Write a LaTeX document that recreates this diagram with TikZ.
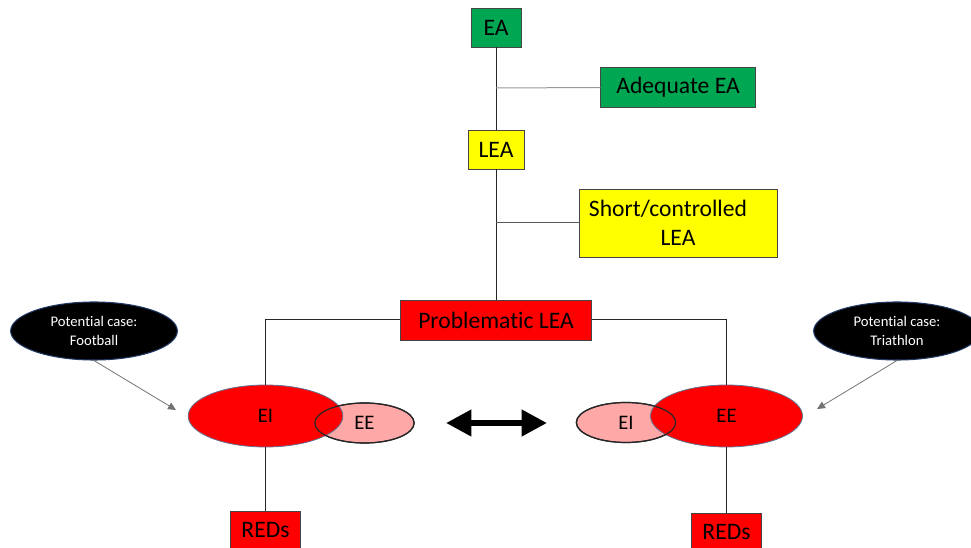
\documentclass[tikz,border=0pt]{standalone}
\usepackage{fontspec}
\setmainfont[Ligatures={NoCommon}]{Carlito}
\usepackage{xcolor}
\usepackage{tikz}
\usetikzlibrary{shapes.geometric,arrows.meta,positioning}

\definecolor{eagreen}{RGB}{0,166,81}
\definecolor{leayellow}{RGB}{255,255,0}
\definecolor{redsred}{RGB}{255,0,0}
\definecolor{softpink}{RGB}{255,168,168}
\definecolor{rimgray}{RGB}{70,70,70}
\definecolor{navyrim}{RGB}{31,56,100}

\tikzset{
  stagebox/.style={draw=rimgray, line width=0.6pt, inner sep=0pt, align=center,
    font=\fontsize{17.7}{22}\selectfont},
  bigoval/.style={ellipse, fill=redsred, draw=navyrim!70, line width=0.6pt, inner sep=0pt,
    minimum width=116pt, minimum height=46.5pt, font=\fontsize{15.5}{18}\selectfont},
  smalloval/.style={ellipse, fill=softpink, draw=black!85, line width=0.9pt, inner sep=0pt,
    minimum width=74.5pt, minimum height=30pt, font=\fontsize{15.5}{18}\selectfont},
  smallrim/.style={ellipse, draw=black!85, line width=0.9pt, inner sep=0pt,
    minimum width=74.5pt, minimum height=30pt},
  caseoval/.style={ellipse, fill=black, draw=navyrim, line width=0.8pt, text=white, inner sep=0pt,
    align=center, minimum width=125pt, minimum height=43.5pt, font=\fontsize{11}{13.7}\selectfont},
  link/.style={draw=black!85, line width=0.75pt},
}

\begin{document}
\begin{tikzpicture}[x=0.75pt,y=0.75pt,yscale=-1,xscale=1]
\useasboundingbox (0,0) rectangle (971,548);

% Stage boxes
\node [stagebox, fill=eagreen, minimum width=37.5pt, minimum height=29.3pt] (ea) at (496,27.5) {EA};
\node [stagebox, fill=eagreen, minimum width=116pt, minimum height=29.7pt] (adeq) at (678,87.5) {Adequate EA};
\node [stagebox, fill=leayellow, minimum width=42pt, minimum height=29.3pt] (lea) at (496,149.5) {LEA};
\node [stagebox, fill=leayellow, minimum width=148.5pt, minimum height=51pt] (short) at (678,223) {Short/controlled\hspace*{15pt}\\LEA};
\node [stagebox, fill=redsred, minimum width=143pt, minimum height=30pt] (prob) at (496,320) {Problematic LEA};

% Left pair: EI dominant
\node [smalloval] (eeL) at (364.5,423) {EE};
\node [bigoval] (eiL) at (265.5,416) {EI};
\node [smallrim] (eeLrim) at (364.5,423) {};
% Right pair: EE dominant
\node [smalloval] (eiR) at (626,422.5) {EI};
\node [bigoval, minimum width=114pt] (eeR) at (726.5,416) {EE};
\node [smallrim] (eiRrim) at (626,422.5) {};

% Outcome boxes
\node [stagebox, fill=redsred, minimum width=53pt, minimum height=29.3pt] (redsL) at (265.5,530.5) {REDs};
\node [stagebox, fill=redsred, minimum width=53pt, minimum height=29.3pt] (redsR) at (726.5,532.5) {REDs};

% Example cases
\node [caseoval] (football) at (94,331) {Potential case:\\Football};
\node [caseoval] (triathlon) at (897,331) {Potential case:\\Triathlon};

% Branch points and arrow ends
\coordinate (jAdeq) at (496,88);
\coordinate (jShort) at (496,223);
\coordinate (tipL) at (176,410);
\coordinate (tipR) at (817,409);
\coordinate (swapL) at (446,423);
\coordinate (swapR) at (547,423);

%Straight Lines
\draw [link] (ea.south) -- (lea.north);
\draw [link] (lea.south) -- (prob.north);
\draw [draw=black!40, line width=0.75pt] (jAdeq) -- (adeq.west);
\draw [draw=black!65, line width=0.75pt] (jShort) -- (short.west);
\draw [link] (prob.west) -| (eiL.north);
\draw [link] (prob.east) -| (eeR.north);
\draw [link] (eiL.south) -- (redsL.north);
\draw [link] (eeR.south) -- (redsR.north);

% Case arrows
\draw [draw=black!55, line width=0.6pt, -{Triangle[length=6pt 0 0, width=5.5pt 0 0]}, shorten <=-1pt] (football.south) -- (tipL);
\draw [draw=black!55, line width=0.6pt, -{Triangle[length=6pt 0 0, width=5.5pt 0 0]}, shorten <=-1pt] (triathlon.south) -- (tipR);

% Swap arrow
\draw [line width=4.5pt, {Triangle[length=19pt 0 0, width=19pt 0 0]}-{Triangle[length=19pt 0 0, width=19pt 0 0]}] (swapL) -- (swapR);

\end{tikzpicture}
\end{document}
